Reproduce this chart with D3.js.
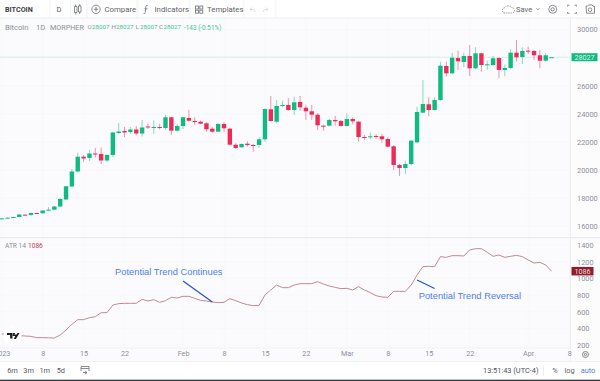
<!DOCTYPE html>
<html><head><meta charset="utf-8">
<script src="https://cdn.jsdelivr.net/npm/d3@7"></script>
<style>
html,body{margin:0;padding:0;background:#fff;overflow:hidden}
svg{display:block;font-family:Roboto,"Liberation Sans",sans-serif}
</style></head><body><svg id="c" width="600" height="381"></svg>
<script>
const opens=[16513,16564,16620,16656,16820,16800,16940,16920,17119,17176,17403,17902,18827,19894,20948,20855,21175,21140,20677,21069,22634,22777,22706,22883,22599,23097,23012,23061,22990,23752,22798,23133,23702,23488,23439,23325,22940,22727,23275,22940,21802,21617,21873,21780,21780,22186,24321,23439,24556,24627,24271,24841,24435,24179,23937,23154,23154,23560,23488,23133,23631,23439,22350,22328,22421,22400,22207,21688,20357,20143,20428,21972,24079,24677,24271,24983,27403,26883,27972,27686,28114,27239,28307,27474,27474,27972,27118,27260,28349,28043,28492,28470,28164,27780,28007];
const highs=[16560,16620,16670,16870,16830,16977,16950,17130,17368,17439,18008,18880,20072,21232,21068,21425,21567,21602,21140,22706,23346,23061,23061,23133,23560,23310,23524,23275,23937,23795,23275,23795,24271,23752,23524,23417,23083,23325,23417,22990,21902,21880,22044,21852,22328,24364,25268,24983,24933,25104,25218,25268,24627,24627,24036,23225,23631,23844,23560,24036,23752,23488,22492,22656,22563,22563,22328,21780,20428,20663,22136,24506,26406,25175,25175,27709,27709,28349,28492,28349,28897,28734,28349,27780,28115,28022,27495,28591,29253,28734,28776,28541,28541,28307,28027];
const lows=[16500,16550,16610,16620,16750,16727,16860,16900,17083,17155,17368,17880,18791,19859,20570,20642,20891,20428,20570,20926,22563,22350,22563,22457,22385,22919,22563,22883,22898,22492,22727,22898,23439,23204,23275,22727,22656,22706,22727,21760,21517,21590,21660,21303,21588,22015,23439,23325,24463,24221,23915,24221,23560,23560,22848,22798,23097,23154,23097,23083,23254,22015,22136,22207,22228,21944,21617,20001,19574,19716,20335,21900,24036,23844,24221,24933,26641,26833,27118,27310,26691,27168,26997,27118,27403,26527,26691,27189,27709,27545,28257,27830,27239,27709,28007];
const closes=[16557,16606,16656,16834,16762,16941,16870,17119,17176,17403,17937,18841,19894,20948,20820,21175,21105,20677,21069,22670,22741,22670,22883,22599,23026,23026,23061,23012,23752,22798,23133,23752,23510,23417,23296,22898,22727,23275,22969,21802,21567,21852,21780,21738,22186,24343,23488,24556,24627,24271,24819,24463,24179,23937,23183,23133,23560,23467,23133,23631,23467,22350,22279,22400,22350,22186,21660,20357,20143,20428,22086,24129,24698,24271,24983,27424,26883,27993,27737,28114,27239,28307,27474,27524,27951,27118,27260,28349,28022,28470,28435,28164,27780,28164,28027];
const atr=[332,330,324,312,308,304,288,288,286,284,320,380,448,504,504,528,540,588,588,680,696,700,700,700,748,728,744,712,732,772,764,784,784,760,736,728,716,708,712,756,732,704,684,672,676,800,860,920,888,888,920,936,936,936,960,932,908,892,876,880,860,900,860,828,792,776,772,844,844,844,920,1040,1140,1144,1140,1260,1252,1272,1272,1268,1340,1356,1356,1312,1264,1280,1252,1264,1276,1260,1220,1184,1192,1160,1086];
const priceTicks=[16000,18000,20000,22000,24000,26000,28000,30000];
const atrTicks=[200,400,600,800,1000,1200,1400];
const timeTicks=["2023-01-01","2023-01-08","2023-01-15","2023-01-22","2023-02-01","2023-02-08","2023-02-15","2023-02-22","2023-03-01","2023-03-08","2023-03-15","2023-03-22","2023-04-01","2023-04-08"];
const timeLabels=["2023","8","15","22","Feb","8","15","22","Mar","8","15","22","Apr","8"];
const rangeButtons=["6m","3m","1m","5d"];
const legendValues=["28007","28027","28007","28027"];
const legendKeys=["O","H","L","C"];
const lastPrice=28027, lastAtr=1086;
const noteA={text:"Potential Trend Continues",from:["2023-02-01",968],to:["2023-02-06",716]};
const noteB={text:"Potential Trend Reversal",from:["2023-03-13",980],to:["2023-03-16",878]};

const UP="#10bb80",DOWN="#ee2a58",GREY="#8c9099",BLUE="#4f7fe6",LINE="#2a55c8";
const svg=d3.select("#c");
const dayMs=864e5,t0=Date.UTC(2023,0,1);
const dates=opens.map((_,i)=>new Date(t0+i*dayMs));
const x=d3.scaleUtc().domain([dates[0],dates[94]]).range([1.7,551.6]);
const y=d3.scaleLinear().domain([16000,30000]).range([226.2,29.5]);
const ya=d3.scaleLinear().domain([200,1400]).range([345,245]);
const parse=s=>new Date(s+"T00:00:00Z");
const W=570;

svg.append("rect").attr("width",600).attr("height",381).attr("fill","#fff");
svg.append("rect").attr("y",18).attr("width",600).attr("height",344).attr("fill","#fbfbfd");
svg.append("rect").attr("x",570).attr("y",19).attr("width",30).attr("height",343).attr("fill","#fcfcfd");
svg.append("g").selectAll("rect").data([[49,1.5],[70,1.5],[86,2],[136,3],[189,1.5],[243,1.5],[275,1.5]]).join("rect")
 .attr("x",d=>d[0]).attr("y",0).attr("width",d=>d[1]).attr("height",18).attr("fill","#f6f7f9");
svg.append("rect").attr("y",17.5).attr("width",600).attr("height",1.2).attr("fill","#f0f1f4");

const grid=svg.append("g").attr("stroke","#f7f8fa").attr("stroke-width",1);
grid.selectAll("line.v").data(timeTicks).join("line").attr("x1",d=>x(parse(d))).attr("x2",d=>x(parse(d))).attr("y1",19).attr("y2",348);
grid.selectAll("line.h").data(priceTicks).join("line").attr("x1",0).attr("x2",W).attr("y1",d=>y(d)).attr("y2",d=>y(d));
grid.selectAll("line.a").data(atrTicks).join("line").attr("x1",0).attr("x2",W).attr("y1",d=>ya(d)).attr("y2",d=>ya(d));

svg.append("rect").attr("y",237).attr("width",600).attr("height",1.2).attr("fill","#eaebee");
svg.append("rect").attr("x",570).attr("y",18).attr("width",1).attr("height",344).attr("fill","#eeeff2");
svg.append("rect").attr("y",347.5).attr("width",570).attr("height",1).attr("fill","#f1f2f4");
svg.append("rect").attr("y",361).attr("width",600).attr("height",1).attr("fill","#eff0f3");
svg.append("rect").attr("y",362).attr("width",600).attr("height",17.5).attr("fill","#fff");
svg.append("rect").attr("y",379.7).attr("width",600).attr("height",1.3).attr("fill","#33363b");

svg.append("line").attr("x1",0).attr("x2",W).attr("y1",y(lastPrice)).attr("y2",y(lastPrice)).attr("stroke","#d3f0e6").attr("stroke-width",1);

svg.append("defs").append("clipPath").attr("id","pane").append("rect").attr("width",W).attr("height",381);
const candles=svg.append("g").attr("clip-path","url(#pane)").selectAll("g").data(dates).join("g");
const col=i=>closes[i]>=opens[i]?UP:DOWN;
candles.append("line").attr("x1",d=>x(d)).attr("x2",d=>x(d))
 .attr("y1",(d,i)=>y(highs[i])).attr("y2",(d,i)=>y(lows[i]))
 .attr("stroke",(d,i)=>col(i)).attr("stroke-width",1).attr("stroke-opacity",.5);
candles.append("rect").attr("x",d=>x(d)-2.2).attr("width",4.4)
 .attr("y",(d,i)=>y(Math.max(opens[i],closes[i])))
 .attr("height",(d,i)=>Math.max(1,Math.abs(y(opens[i])-y(closes[i]))))
 .attr("fill",(d,i)=>col(i));

svg.append("path").attr("clip-path","url(#pane)").attr("fill","none").attr("stroke","#c08a90").attr("stroke-width",1)
 .attr("d",d3.line().x((d,i)=>x(dates[i])).y(d=>ya(d))(atr));

const axR=(scale,ticks,fmt)=>g=>{
 g.call(d3.axisRight(scale).tickValues(ticks).tickSize(0).tickPadding(0).tickFormat(fmt));
 g.select(".domain").remove();
 g.selectAll("text").attr("fill",GREY).attr("font-size",7.4).attr("font-family","Roboto,sans-serif");
};
svg.append("g").attr("transform","translate(577,0)").call(axR(y,priceTicks.filter(d=>d!==28000),d3.format("d")));
svg.append("g").attr("transform","translate(577,0)").call(axR(ya,atrTicks,d3.format("d")));

const tg=svg.append("g").attr("transform","translate(0,350.5)");
tg.call(d3.axisBottom(x).tickValues(timeTicks.map(parse)).tickSize(0).tickPadding(0).tickFormat((d,i)=>timeLabels[i]));
tg.select(".domain").remove();
tg.selectAll("text").attr("fill",GREY).attr("font-size",7.2).attr("font-family","Roboto,sans-serif");

const tag=(yy,x0,w,h,fill,txt)=>{
 svg.append("rect").attr("x",x0).attr("y",yy-h/2).attr("width",w).attr("height",h).attr("fill",fill);
 svg.append("text").attr("x",x0+w/2).attr("y",yy).attr("dy","0.36em").attr("text-anchor","middle").attr("font-size",7.2).attr("fill","#fff").attr("fill-opacity",.85).text(txt);
};
tag(y(lastPrice),571.5,26,8,UP,lastPrice);
tag(ya(lastAtr),571.5,22,8.5,"#8f1d2c",lastAtr);

const text=(xx,yy,s,o={})=>svg.append("text").attr("x",xx).attr("y",yy).attr("dy","0.35em")
 .attr("font-size",o.size||7.5).attr("fill",o.fill||"#5f636b").attr("font-weight",o.weight||400).attr("text-anchor",o.anchor||"start").text(s);

text(5,9.3,"BITCOIN",{size:7.2,weight:700,fill:"#3a3d44"});
text(59,9.3,"D",{size:7.4,fill:"#55585f",anchor:"middle"});
text(104.5,9.3,"Compare",{size:7.8});
text(154.5,9.3,"Indicators",{size:7.8});
text(207,9.3,"Templates",{size:7.8});
text(516,9.3,"Save",{size:7.6});
const ic=svg.append("g").attr("fill","none").attr("stroke","#6a6e76").attr("stroke-width",.8);
ic.append("circle").attr("cx",96).attr("cy",9.3).attr("r",4.2);
ic.append("path").attr("d","M96 7V11.6M93.7 9.3H98.3");
ic.append("path").attr("d","M74.5 6.5h2.5v6h-2.5zM78.5 6h2.5v6h-2.5zM75.7 4.5v2M75.7 12.5v2M79.7 4v2M79.7 12v2");
ic.append("path").attr("d","M147.5 5.5q-1.5-.5-1.7 1l-.6 6q-.2 1.5-1.7 1M144.5 8.8h3");
ic.selectAll("rect.t").data([[195.5,6],[199.8,6],[195.5,10.2],[199.8,10.2]]).join("rect").attr("x",d=>d[0]).attr("y",d=>d[1]).attr("width",3).attr("height",3);
ic.append("path").attr("stroke","#d5d7db").attr("d","M250 9.5l2-2M250 9.5l2 2M250 9.5h3q2 0 2 2.5M268 9.5l-2-2M268 9.5l-2 2M268 9.5h-3q-2 0-2 2.5");
ic.append("path").attr("stroke-dasharray","1.2 1").attr("d","M505 13q-2.5 0-2.5-2.6t2.5-2.6q1-2 3.5-2t3.5 2q2.5.3 2.5 2.6t-2.5 2.6z");
ic.append("path").attr("d","M536.5 8.2l1.5 1.5 1.5-1.5");
ic.append("circle").attr("cx",552.7).attr("cy",9.3).attr("r",1.6);
ic.append("circle").attr("cx",552.7).attr("cy",9.3).attr("r",4);
ic.append("path").attr("d","M567.5 6.5v-1.3h2M574.5 5.2h2v1.3M567.5 12v1.3h2M574.5 13.3h2v-1.3");
ic.append("path").attr("d","M586 6.2h1.5l1-1.3h3.5l1 1.3h1.5v7h-8z");
ic.append("circle").attr("cx",590).attr("cy",9.7).attr("r",1.8);

text(5,27.3,"Bitcoin",{size:7.6,fill:GREY});
text(36,27.3,"1D",{size:7.6,fill:GREY});
text(50,27.3,"MORPHER",{size:7.2,fill:GREY});
[87.5,111.5,135.5,159].forEach((xx,i)=>{
 text(xx,27.3,legendKeys[i],{size:6.2,fill:GREY});
 text(xx+4.5,27.3,legendValues[i],{size:6.2,fill:"#3cc59a"});
});
text(184,27.3,"-143 (-0.51%)",{size:6.4,fill:"#3cc59a"});

text(5,245.7,"ATR 14",{size:6.6,fill:GREY});
text(28,245.7,lastAtr,{size:6.6,fill:"#b5465c"});

svg.append("circle").attr("cx",12.5).attr("cy",336).attr("r",9).attr("fill","#fff");
svg.append("path").attr("fill","#1c1e22").attr("d","M7 333h5.5v5.5h-2.4v-3.5H7zM13 333h2.2l-.9 1.4h2.2l1-1.4h2l-3.6 6h-2.2l1.6-2.9H12.8z");

const note=(n,anchorX,anchorY)=>{
 svg.append("line").attr("x1",x(parse(n.from[0]))).attr("y1",ya(n.from[1])).attr("x2",x(parse(n.to[0]))).attr("y2",ya(n.to[1]))
  .attr("stroke",LINE).attr("stroke-width",1.3);
 svg.append("text").attr("x",anchorX).attr("y",anchorY).attr("dy","0.35em").attr("font-size",9.35).attr("fill",BLUE)
  .attr("font-family","'Liberation Sans',Arial,sans-serif").text(n.text);
};
note(noteA,115,271.7);
note(noteB,418.7,296);

rangeButtons.forEach((s,i)=>text(12.5+i*16.1,370.7,s,{size:7.4,anchor:"middle",fill:"#555962"}));
ic.append("path").attr("d","M81 371v-4.5h8v4.5M81 368.5h8M85 374l2-1.5-2-1.5M87 372.5h-4");
text(483,370.7,"13:51:43 (UTC-4)",{size:7.4,fill:"#4d5159"});
svg.append("rect").attr("x",543).attr("y",365).attr("width",1).attr("height",11).attr("fill","#eceef0");
text(555,370.7,"%",{size:7.4,anchor:"middle"});
text(569.5,370.7,"log",{size:7.4,anchor:"middle"});
text(588,370.7,"auto",{size:7.4,anchor:"middle",fill:BLUE});
ic.append("circle").attr("cx",585.5).attr("cy",354.5).attr("r",3);
ic.append("circle").attr("cx",585.5).attr("cy",354.5).attr("r",1.2);
</script></body></html>
